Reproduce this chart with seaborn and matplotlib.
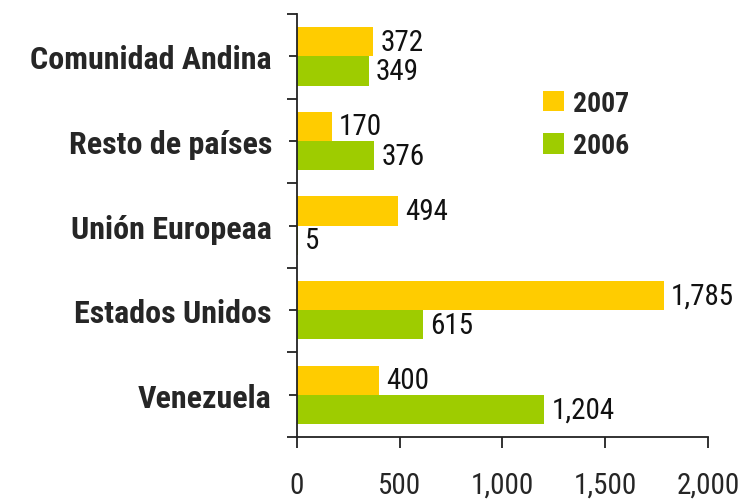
import matplotlib
matplotlib.use("Agg")
import matplotlib.pyplot as plt
import seaborn as sns
import pandas as pd
from matplotlib import font_manager
from matplotlib.patches import Patch

categorias = ["Comunidad Andina", "Resto de países", "Unión Europeaa", "Estados Unidos", "Venezuela"]
valores_2007 = [372, 170, 494, 1785, 400]
valores_2006 = [349, 376, 5, 615, 1204]
anios = ["2007", "2006"]
colores = ["#FFCC00", "#9ECC00"]
xticks = [0, 500, 1000, 1500, 2000]

df = pd.DataFrame({
    "region": categorias * 2,
    "valor": valores_2007 + valores_2006,
    "anio": [anios[0]] * len(categorias) + [anios[1]] * len(categorias),
})

sns.set_style("white")
# fuente estrecha tipo Arial Narrow, la primera que haya
disponibles = {f.name for f in font_manager.fontManager.ttflist}
candidatas = ["Liberation Sans Narrow", "Arimo Narrow", "Roboto Condensed", "PT Sans Narrow",
              "Archivo Narrow", "Open Sans Condensed"]
narrow = next((c for c in candidatas if c in disponibles), "Liberation Sans")
familia = [narrow, "DejaVu Sans"]
plt.rcParams["font.family"] = familia

fig = plt.figure(figsize=(7.46, 5.02), dpi=100)
ax = fig.add_axes([0.398, 0.1275, 0.551, 0.8425])

sns.barplot(data=df, y="region", x="valor", hue="anio", hue_order=anios,
            palette=colores, orient="h", width=0.69, saturation=1, linewidth=0,
            order=categorias, ax=ax, legend=False)

for cont in ax.containers:
    ax.bar_label(cont, labels=[f"{v:,.0f}" for v in cont.datavalues],
                 padding=5, fontsize=21, color="#111111")

ax.set_xlim(0, 2000)
ax.set_ylim(len(categorias) - 0.5, -0.5)
ax.set_xticks(xticks)
ax.set_xticklabels([f"{t:,}" for t in xticks], fontsize=21)
ax.set_yticks(range(len(categorias)))
ax.set_yticklabels(categorias, fontsize=23, fontweight="bold")
ax.set_yticks([i - 0.5 for i in range(len(categorias) + 1)], minor=True)
ax.tick_params(axis="y", which="major", left=True, length=5.5, width=1.3, direction="out",
               color="#222222", pad=12.5)
ax.tick_params(axis="y", which="minor", left=True, length=7, width=1.3, direction="out", color="#222222")
ax.tick_params(axis="x", which="major", bottom=True, length=8, width=1.3, direction="out",
               color="#222222", pad=16.5)
ax.set_xlabel("")
ax.set_ylabel("")

for s in ["top", "right"]:
    ax.spines[s].set_visible(False)
for s in ["left", "bottom"]:
    ax.spines[s].set_color("#222222")
    ax.spines[s].set_linewidth(1.3)

handles = [Patch(facecolor=c, edgecolor="none", label=a) for c, a in zip(colores, anios)]
ax.legend(handles=handles, loc="upper left", bbox_to_anchor=(0.539, 0.88),
          frameon=False, prop={"size": 20, "weight": "bold", "family": familia},
          handlelength=0.75, handleheight=0.75, handletextpad=0.3, labelspacing=0.55)

plt.savefig("out.png", dpi=100)
